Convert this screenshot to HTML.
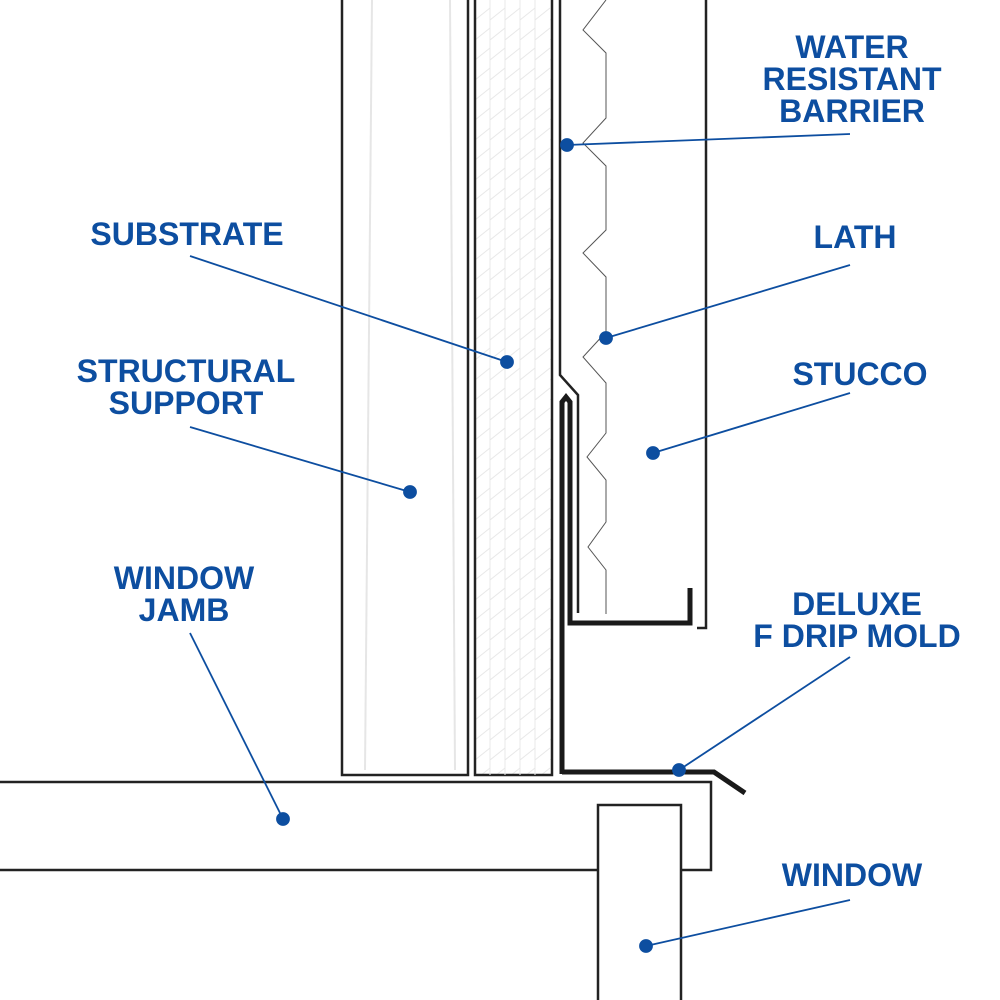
<!DOCTYPE html>
<html><head><meta charset="utf-8"><style>
html,body{margin:0;padding:0;background:#fff;}
svg{display:block}
text{font-family:"Liberation Sans",sans-serif;font-weight:bold;font-size:32px;fill:#0d4ea0;text-anchor:middle}
</style></head><body>
<svg width="1000" height="1000" viewBox="0 0 1000 1000">
<defs>
<pattern id="h" x="475" width="15" height="40" patternUnits="userSpaceOnUse">
<path d="M0 20 L15 8 M0 40 L15 28" stroke="#e8e8e8" stroke-width="1" fill="none"/>
</pattern>
</defs>
<!-- structural support -->
<rect x="342" y="-5" width="126" height="780" fill="#fff" stroke="#222" stroke-width="2.5"/>
<line x1="372" y1="0" x2="365" y2="770" stroke="#e6e6e6" stroke-width="2"/>
<line x1="450" y1="0" x2="455" y2="770" stroke="#e6e6e6" stroke-width="2"/>
<!-- substrate -->
<rect x="475" y="-5" width="77" height="780" fill="url(#h)" stroke="#222" stroke-width="2.5"/>
<line x1="490" y1="0" x2="490" y2="775" stroke="#e8e8e8"/>
<line x1="505" y1="0" x2="505" y2="775" stroke="#e8e8e8"/>
<line x1="520" y1="0" x2="520" y2="775" stroke="#e8e8e8"/>
<line x1="535" y1="0" x2="535" y2="775" stroke="#e8e8e8"/>
<!-- WRB -->
<polyline points="560,0 560,375 578,395 578,613" fill="none" stroke="#222" stroke-width="2.5"/>
<!-- stucco right edge -->
<polyline points="706,0 706,628 697,628" fill="none" stroke="#222" stroke-width="2.5"/>
<!-- lath -->
<polyline points="606,0 583,30 606,53 606,118 583,143 606,166 606,230 583,253 606,277 606,332 583,357 606,383 606,433 587,457 606,480 606,522 588,547 606,570 606,614" fill="none" stroke="#555" stroke-width="1"/>
<!-- drip mold -->
<polyline points="562,772 714,772 745,793" fill="none" stroke="#1a1a1a" stroke-width="5"/>
<polyline points="562,774 562,402 566,397 570,402 570,623 690,623 690,588" fill="none" stroke="#1a1a1a" stroke-width="5"/>
<!-- jamb -->
<polyline points="0,782 711,782 711,870 681,870" fill="none" stroke="#222" stroke-width="2.5"/>
<line x1="0" y1="870" x2="598" y2="870" stroke="#222" stroke-width="2.5"/>
<!-- window -->
<rect x="598" y="805" width="83" height="200" fill="#fff" stroke="#222" stroke-width="2.5"/>
<!-- leaders -->
<g stroke="#0d4ea0" stroke-width="1.8" fill="#0d4ea0">
<line x1="567" y1="145" x2="850" y2="134"/><circle cx="567" cy="145" r="6"/>
<line x1="190" y1="256" x2="507" y2="362"/><circle cx="507" cy="362" r="6"/>
<line x1="606" y1="338" x2="850" y2="265"/><circle cx="606" cy="338" r="6"/>
<line x1="190" y1="427" x2="410" y2="492"/><circle cx="410" cy="492" r="6"/>
<line x1="653" y1="453" x2="850" y2="393"/><circle cx="653" cy="453" r="6"/>
<line x1="190" y1="633" x2="283" y2="819"/><circle cx="283" cy="819" r="6"/>
<line x1="679" y1="770" x2="850" y2="657"/><circle cx="679" cy="770" r="6"/>
<line x1="646" y1="946" x2="850" y2="900"/><circle cx="646" cy="946" r="6"/>
</g>
<text x="852" y="58">WATER</text>
<text x="852" y="90">RESISTANT</text>
<text x="852" y="122">BARRIER</text>
<text x="187" y="245">SUBSTRATE</text>
<text x="855" y="248">LATH</text>
<text x="186" y="382">STRUCTURAL</text>
<text x="186" y="414">SUPPORT</text>
<text x="860" y="385">STUCCO</text>
<text x="184" y="589">WINDOW</text>
<text x="184" y="621">JAMB</text>
<text x="857" y="615">DELUXE</text>
<text x="857" y="647">F DRIP MOLD</text>
<text x="852" y="886">WINDOW</text>
</svg>
</body></html>
